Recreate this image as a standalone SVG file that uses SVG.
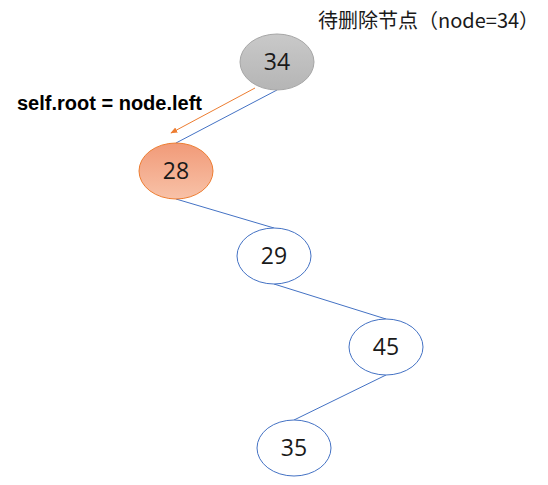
<svg xmlns="http://www.w3.org/2000/svg" width="548" height="485" viewBox="0 0 548 485">
<style>
.n{fill:#fff;stroke:#4472C4;stroke-width:1}
.t{font-family:"Open Sans","Noto Sans",sans-serif;font-size:23px;fill:#1a1a1a;text-anchor:middle}
.c{stroke:#4472C4;stroke-width:1;fill:none}
</style>
<defs>
<linearGradient id="g1" x1="0" y1="0" x2="0" y2="1"><stop offset="0" stop-color="#C9C9C9"/><stop offset="1" stop-color="#B5B5B5"/></linearGradient>
<linearGradient id="g2" x1="0" y1="0" x2="0" y2="1"><stop offset="0" stop-color="#F19A78"/><stop offset="1" stop-color="#F8C2A8"/></linearGradient>
<marker id="ah" viewBox="0 0 10 10" refX="9" refY="5" markerWidth="7" markerHeight="7" orient="auto"><path d="M0,1 L10,5 L0,9 z" fill="#ED7D31"/></marker>
</defs>
<rect width="548" height="485" fill="#fff"/>
<g id="connectors">
<line class="c" x1="277" y1="90" x2="176" y2="143"/>
<line class="c" x1="176" y1="199" x2="274" y2="228"/>
<line class="c" x1="274" y1="284" x2="386" y2="319"/>
<line class="c" x1="386" y1="375" x2="294" y2="420"/>
<line x1="255" y1="88" x2="171" y2="133" stroke="#ED7D31" stroke-width="1" marker-end="url(#ah)"/>
</g>
<g id="node34"><ellipse cx="277" cy="62" rx="37" ry="28" fill="url(#g1)" stroke="#A6A6A6"/><text class="t" x="277" y="70">34</text></g>
<g id="node28"><ellipse cx="176" cy="171" rx="37" ry="28" fill="url(#g2)" stroke="#ED7D31"/><text class="t" x="176" y="179">28</text></g>
<g id="node29"><ellipse class="n" cx="274" cy="256" rx="37" ry="28"/><text class="t" x="274" y="264">29</text></g>
<g id="node45"><ellipse class="n" cx="386" cy="347" rx="37" ry="28"/><text class="t" x="386" y="355">45</text></g>
<g id="node35"><ellipse class="n" cx="294" cy="448" rx="37" ry="28"/><text class="t" x="294" y="456">35</text></g>
<text x="318" y="28" font-family="'Noto Sans CJK SC',sans-serif" font-size="20" fill="#1a1a1a">待删除节点（node=34）</text>
<text x="17" y="110" font-family="'Liberation Sans','Noto Sans',sans-serif" font-weight="bold" font-size="20" fill="#000">self.root = node.left</text>
</svg>
